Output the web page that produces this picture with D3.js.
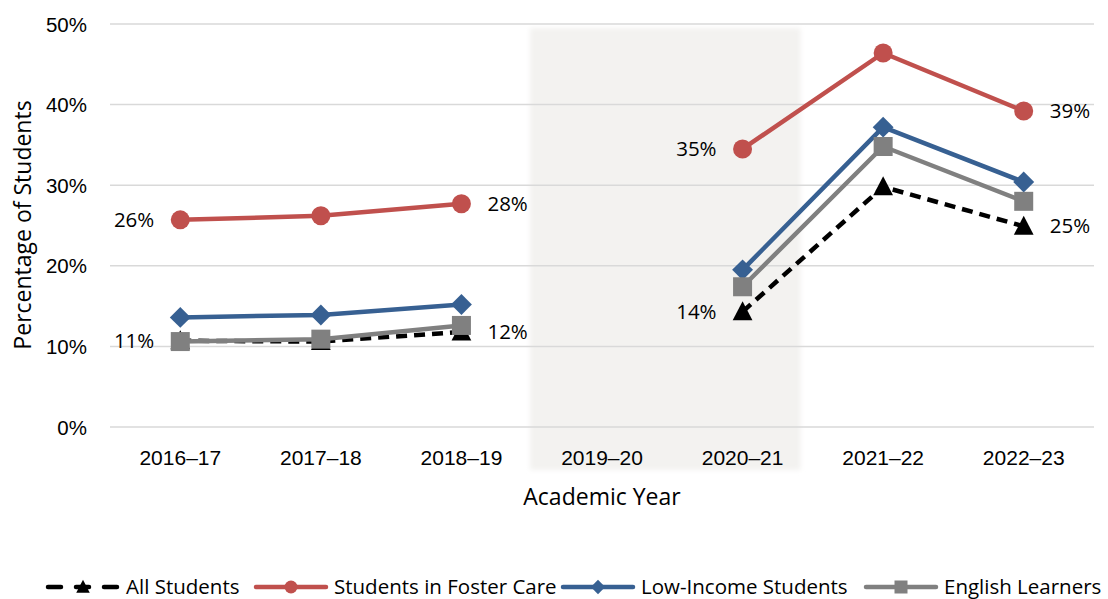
<!DOCTYPE html>
<html>
<head>
<meta charset="utf-8">
<script src="https://cdn.jsdelivr.net/npm/d3@7"></script>
<style>
  html, body { margin: 0; padding: 0; background: #fff; }
  svg { display: block; font-family: "Open Sans", "Noto Sans", sans-serif; }
</style>
</head>
<body>
<svg id="chart" width="1108" height="599"></svg>
<script>
// Academic years on the x axis
const years = ["2016–17", "2017–18", "2018–19", "2019–20", "2020–21", "2021–22", "2022–23"];

// Percentages by group (null = no data collected in 2019–20)
const allStudents   = [10.7, 10.6, 11.8, null, 14.3, 29.8, 24.9];
const fosterCare    = [25.7, 26.2, 27.7, null, 34.5, 46.4, 39.2];
const lowIncome     = [13.6, 13.9, 15.2, null, 19.5, 37.2, 30.4];
const englishLearn  = [10.6, 10.9, 12.6, null, 17.4, 34.8, 28.0];

const yTicks = [0, 10, 20, 30, 40, 50];

// Which points get a value label, and on which side
const labelSpots = [
  { series: "Students in Foster Care", idx: 0, side: "left" },
  { series: "Students in Foster Care", idx: 2, side: "right" },
  { series: "Students in Foster Care", idx: 4, side: "left" },
  { series: "Students in Foster Care", idx: 6, side: "right" },
  { series: "All Students", idx: 0, side: "left" },
  { series: "All Students", idx: 2, side: "right" },
  { series: "All Students", idx: 4, side: "left" },
  { series: "All Students", idx: 6, side: "right" }
];

const seriesList = [
  { name: "All Students", values: allStudents, color: "#000000", dash: "11,7", marker: "triangle" },
  { name: "Students in Foster Care", values: fosterCare, color: "#C0504D", dash: null, marker: "circle" },
  { name: "Low-Income Students", values: lowIncome, color: "#376092", dash: null, marker: "diamond" },
  { name: "English Learners", values: englishLearn, color: "#808080", dash: null, marker: "square" }
];

const svg = d3.select("#chart");
const margin = { left: 110, right: 1094, top: 24, bottom: 427 };

const x = d3.scaleBand().domain(years).range([margin.left, margin.right]).paddingInner(0).paddingOuter(0);
const y = d3.scaleLinear().domain([0, 50]).range([margin.bottom, margin.top]);
const cx = d => x(d) + x.bandwidth() / 2;

// Soft grey band marking the pandemic gap
const defs = svg.append("defs");
defs.append("filter").attr("id", "soft").attr("x", "-10%").attr("y", "-10%").attr("width", "120%").attr("height", "120%")
  .append("feGaussianBlur").attr("stdDeviation", 2.5);
svg.append("rect")
  .attr("x", cx("2019–20") - 72).attr("y", 28)
  .attr("width", cx("2020–21") + 58 - (cx("2019–20") - 72))
  .attr("height", 442)
  .attr("fill", "#f3f2f0")
  .attr("filter", "url(#soft)");

// Gridlines
svg.append("g").selectAll("line").data(yTicks).join("line")
  .attr("x1", margin.left).attr("x2", margin.right)
  .attr("y1", d => y(d)).attr("y2", d => y(d))
  .attr("stroke", "#d9d9d9").attr("stroke-width", 1.5);

// Y axis labels
const yAxis = d3.axisLeft(y).tickValues(yTicks).tickFormat(d => d + "%").tickSize(0).tickPadding(0);
const yG = svg.append("g").attr("transform", `translate(${margin.left - 23},0)`).call(yAxis);
yG.select(".domain").remove();
yG.selectAll("text").attr("font-size", 20.5).attr("fill", "#000").attr("font-family", "inherit").attr("dy", "0.35em");

// X axis labels
const xAxis = d3.axisBottom(x).tickSize(0).tickPadding(0);
const xG = svg.append("g").attr("transform", `translate(0,${margin.bottom + 31})`).call(xAxis);
xG.select(".domain").remove();
xG.selectAll("text").attr("font-size", 21).attr("fill", "#000").attr("font-family", "inherit").attr("dy", "0.35em");

// Axis titles
svg.append("text").attr("x", 602).attr("y", 497)
  .attr("text-anchor", "middle").attr("dy", "0.35em").attr("font-size", 23).text("Academic Year");
svg.append("text").attr("transform", "translate(23,225) rotate(-90)")
  .attr("text-anchor", "middle").attr("dy", "0.35em").attr("font-size", 23).text("Percentage of Students");

// Marker shapes
function drawMarker(g, type, color, size) {
  const s = size;
  if (type === "circle") {
    g.append("circle").attr("r", s * 0.5).attr("fill", color);
  } else if (type === "square") {
    g.append("rect").attr("x", -s / 2).attr("y", -s / 2).attr("width", s).attr("height", s).attr("fill", color);
  } else if (type === "diamond") {
    g.append("path").attr("d", `M0,${-s * 0.55}L${s * 0.55},0L0,${s * 0.55}L${-s * 0.55},0Z`).attr("fill", color);
  } else if (type === "triangle") {
    g.append("path").attr("d", `M0,${-s * 0.55}L${s * 0.52},${s * 0.45}L${-s * 0.52},${s * 0.45}Z`).attr("fill", color);
  }
}

const line = d3.line()
  .defined(d => d.v !== null)
  .x(d => cx(d.year))
  .y(d => y(d.v));

seriesList.forEach(s => {
  const pts = years.map((yr, i) => ({ year: yr, v: s.values[i] }));
  const g = svg.append("g");
  g.append("path").datum(pts).attr("d", line)
    .attr("fill", "none").attr("stroke", s.color).attr("stroke-width", 4.5)
    .attr("stroke-dasharray", s.dash).attr("stroke-linejoin", "round");
  pts.filter(p => p.v !== null).forEach(p => {
    const mg = g.append("g").attr("transform", `translate(${cx(p.year)},${y(p.v)})`);
    drawMarker(mg, s.marker, s.color, 19);
  });
});

// Value labels
labelSpots.forEach(l => {
  const s = seriesList.find(d => d.name === l.series);
  const v = s.values[l.idx];
  const px = cx(years[l.idx]);
  svg.append("text")
    .attr("x", l.side === "left" ? px - 26 : px + 26)
    .attr("y", y(v))
    .attr("dy", "0.35em")
    .attr("text-anchor", l.side === "left" ? "end" : "start")
    .attr("font-size", 20.5)
    .text(Math.round(v) + "%");
});

// Legend
const legendItems = [
  { s: seriesList[0], x0: 48 },
  { s: seriesList[1], x0: 256 },
  { s: seriesList[2], x0: 563 },
  { s: seriesList[3], x0: 866 }
];
const ly = 587;
legendItems.forEach(it => {
  const g = svg.append("g");
  g.append("line").attr("x1", it.x0).attr("x2", it.x0 + 70).attr("y1", ly).attr("y2", ly)
    .attr("stroke", it.s.color).attr("stroke-width", 4.5).attr("stroke-linecap", "round")
    .attr("stroke-dasharray", it.s.dash ? "13,15" : null);
  const mg = g.append("g").attr("transform", `translate(${it.x0 + 35},${ly})`);
  drawMarker(mg, it.s.marker, it.s.color, 13);
  g.append("text").attr("x", it.x0 + 78).attr("y", ly).attr("dy", "0.33em")
    .attr("font-size", 20.5).text(it.s.name);
});
</script>
</body>
</html>
